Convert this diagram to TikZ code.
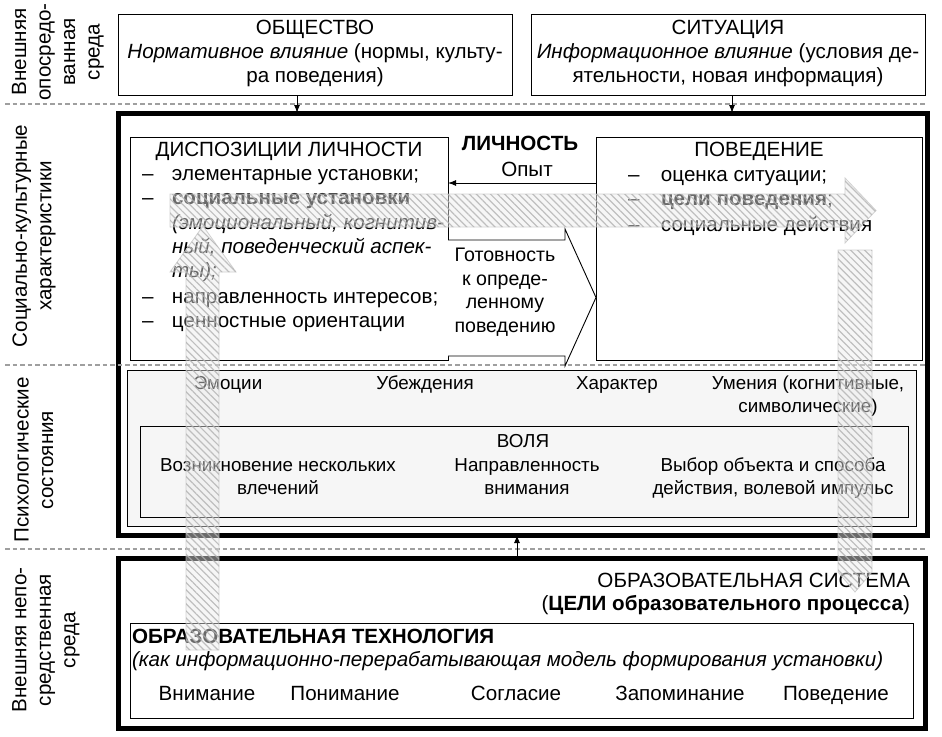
\documentclass[tikz,border=0pt]{standalone}
\usepackage{fontspec}
\setmainfont{Liberation Sans}
\usetikzlibrary{arrows.meta,patterns.meta}
\begin{document}
\begin{tikzpicture}[x=1pt,y=-1pt,
  every node/.style={font=\fontsize{20.6}{24}\selectfont, inner sep=0pt, outer sep=0pt},
  small/.style={font=\fontsize{18.8}{23}\selectfont},
  mid/.style={font=\fontsize{19.6}{23.5}\selectfont},
  box/.style={draw, line width=0.9pt, rectangle},
  heavybox/.style={draw, line width=5pt, rectangle},
  arr/.style={-{Latex[length=8pt,width=6pt]}, line width=1pt},
  sepline/.style={draw=gray!75, line width=1.3pt, dash pattern=on 4.5pt off 3pt},
  hatch/.style={draw=gray!45, line width=0.8pt, fill=gray!15, fill opacity=0.45, draw opacity=0.8,
    postaction={pattern={Lines[angle=-45,distance=5pt,line width=1.2pt]}, pattern color=gray!60, fill opacity=0.55}},
  lbl/.style={rotate=90, align=center, anchor=center, font=\fontsize{20.6}{24.5}\selectfont}]
\useasboundingbox (0,0) rectangle (942,736);
% separators
\draw[sepline] (5,104) -- (925,104);
\draw[sepline] (5,549) -- (925,549);
% top boxes
\node[box, minimum width=394, minimum height=81] (soc) at (315,54.5) {};
\node[box, minimum width=394, minimum height=81] (sit) at (728,54.5) {};
\node[align=center] (soct) at (315,53) {ОБЩЕСТВО\\\textit{Нормативное влияние} (нормы, культу-\\ра поведения)};
\node[align=center] (sitt) at (728,53) {СИТУАЦИЯ\\\textit{Информационное влияние} (условия де-\\ятельности, новая информация)};
% personality
\node[heavybox, minimum width=809, minimum height=422] (pers) at (522.5,324) {};
\node[box, fill=gray!7, minimum width=789, minimum height=156] (psy) at (521.5,448) {};
\draw[sepline] (5,365) -- (925,365);
\node[box, fill=white, minimum width=318, minimum height=223] (disp) at (289,248.5) {};
\node[box, fill=white, minimum width=326, minimum height=223] (pov) at (759,248.5) {};
\node[box, minimum width=768, minimum height=91] (vol) at (524,471.5) {};
% arrows from top
\draw[arr] (soc.south -| 297,0) -- (pers.north -| 297,0);
\draw[arr] (sit.south -| 732,0) -- (pers.north -| 732,0);
% block arrow
\draw[line width=0.9pt, fill=white] (448,240) -- (565,240) -- (565,229) -- (596,297.5) -- (565,366) -- (565,356) -- (448,356);
\node[anchor=base, mid] (g1) at (505,261) {Готовность};
\node[anchor=base, mid] (g2) at (505,285) {к опреде-};
\node[anchor=base, mid] (g3) at (505,308) {ленному};
\node[anchor=base, mid] (g4) at (505,332) {поведению};
% Опыт
\node[anchor=base, font=\fontsize{20.6}{24}\selectfont\bfseries] (lich) at (520,150) {ЛИЧНОСТЬ};
\node[anchor=base] (opyt) at (527,176) {Опыт};
\draw[arr] (pov.west |- 0,183) -- (disp.east |- 0,183);
% disp texts
\node[anchor=base] (dh) at (289,156) {ДИСПОЗИЦИИ ЛИЧНОСТИ};
\node[anchor=base west] (d1) at (142,180) {\makebox[30pt][l]{–}элементарные установки;};
\node[anchor=base west] (d2) at (142,204) {\makebox[30pt][l]{–}\textbf{социальные установки}};
\node[anchor=base west] (d3) at (172,229) {\textit{(эмоциональный, когнитив-}};
\node[anchor=base west] (d4) at (172,253) {\textit{ный, поведенческий аспек-}};
\node[anchor=base west] (d5) at (172,277) {\textit{ты);}};
\node[anchor=base west] (d6) at (142,303) {\makebox[30pt][l]{–}направленность интересов;};
\node[anchor=base west] (d7) at (142,327) {\makebox[30pt][l]{–}ценностные ориентации};
% pov texts
\node[anchor=base] (ph) at (759,156) {ПОВЕДЕНИЕ};
\node[anchor=base west] (p1) at (628,181) {\makebox[33pt][l]{–}оценка ситуации;};
\node[anchor=base west] (p2) at (628,205) {\makebox[33pt][l]{–}\textbf{цели поведения};};
\node[anchor=base west] (p3) at (628,231) {\makebox[33pt][l]{–}социальные действия};
% psych
\node[anchor=base, small] (e1) at (228,389) {Эмоции};
\node[anchor=base, small] (e2) at (425,389) {Убеждения};
\node[anchor=base, small] (e3) at (617,389) {Характер};
\node[anchor=base, small] (e4) at (808,389) {Умения (когнитивные,};
\node[anchor=base, small] (e5) at (808,412) {символические)};
\node[anchor=base, small] (vh) at (523,447) {ВОЛЯ};
\node[anchor=base, small] (v1) at (278,471) {Возникновение нескольких};
\node[anchor=base, small] (v2) at (278,494.5) {влечений};
\node[anchor=base, small] (v3) at (527,471) {Направленность};
\node[anchor=base, small] (v4) at (527,494.5) {внимания};
\node[anchor=base, small] (v5) at (773,471) {Выбор объекта и способа};
\node[anchor=base, small] (v6) at (773,494.5) {действия, волевой импульс};
% education
\node[heavybox, minimum width=807, minimum height=170] (edu) at (521.5,643) {};
\node[box, minimum width=783, minimum height=95] (tech) at (521.5,670.5) {};
\draw[arr] (edu.north -| 517,0) -- (pers.south -| 517,0);
\node[anchor=base east] (s1) at (910,587) {ОБРАЗОВАТЕЛЬНАЯ СИСТЕМА};
\node[anchor=base east] (s2) at (910,610) {(\textbf{ЦЕЛИ образовательного процесса})};
\node[anchor=base west] (t1) at (132,643) {\textbf{ОБРАЗОВАТЕЛЬНАЯ ТЕХНОЛОГИЯ}};
\node[anchor=base west] (t2) at (132,666) {\textit{(как информационно-перерабатывающая модель формирования установки)}};
\node[anchor=base] (w1) at (207,700) {Внимание};
\node[anchor=base] (w2) at (345,700) {Понимание};
\node[anchor=base] (w3) at (516,700) {Согласие};
\node[anchor=base] (w4) at (680,700) {Запоминание};
\node[anchor=base] (w5) at (836,700) {Поведение};
% left labels
\node[lbl] (l1) at (58,52) {Внешняя\\опосредо-\\ванная\\среда};
\node[lbl] (l2) at (34,236) {Социально-культурные\\характеристики};
\node[lbl] (l3) at (34,460) {Психологические\\состояния};
\node[lbl] (l4) at (46,640) {Внешняя непо-\\средственная\\среда};
% hatched arrows
\path[hatch] (186,650) -- (186,272) -- (170,272) -- (203,226) -- (236,272) -- (219,272) -- (219,650) -- cycle;
\path[hatch] (170,194) -- (845,194) -- (845,178) -- (876,210.5) -- (845,243) -- (845,227) -- (170,227) -- cycle;
\path[hatch] (838,250) -- (872,250) -- (872,572) -- (855,592) -- (838,572) -- cycle;
\end{tikzpicture}
\end{document}
